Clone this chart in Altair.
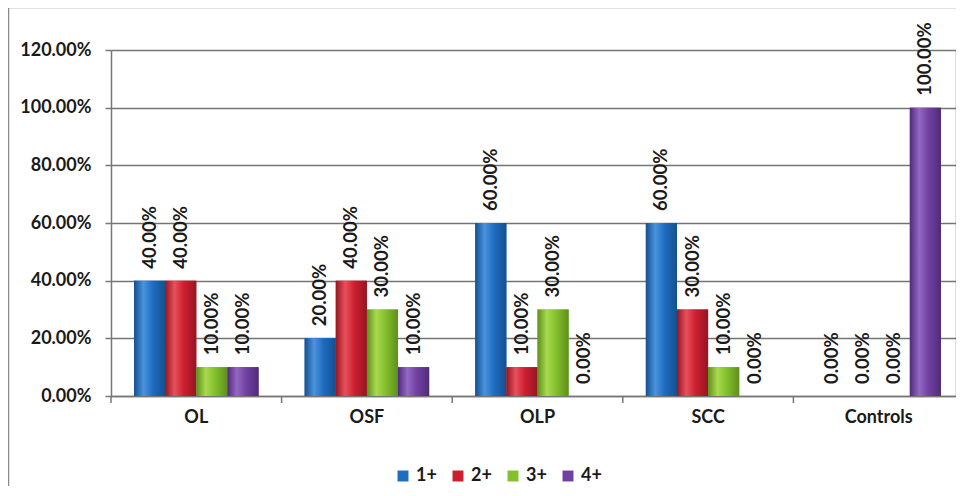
import altair as alt
import pandas as pd

categories = ["OL", "OSF", "OLP", "SCC", "Controls"]
series = ["1+", "2+", "3+", "4+"]
values_1 = [0.40, 0.20, 0.60, 0.60, 0.00]
values_2 = [0.40, 0.40, 0.10, 0.30, 0.00]
values_3 = [0.10, 0.30, 0.30, 0.10, 0.00]
values_4 = [0.10, 0.10, 0.00, 0.00, 1.00]
colors = ["#1f6cc0", "#cc1f30", "#84bf2c", "#7141a2"]
dark = ["#15508f", "#961522", "#5e8f1c", "#4f2b78"]
light = ["#4a93dd", "#e8505c", "#a8d94e", "#9467c4"]
y_ticks = [0, 0.2, 0.4, 0.6, 0.8, 1.0, 1.2]

rows = []
for s, vals in zip(series, [values_1, values_2, values_3, values_4]):
    for c, v in zip(categories, vals):
        rows.append({"cat": c, "series": s, "value": v})
df = pd.DataFrame(rows)
cat_df = pd.DataFrame({"cat": categories})

W, H = 844, 346
XR = 853
FONT = "Lato"

xscale = alt.Scale(domain=categories, paddingInner=0, paddingOuter=0, range=[0, XR])
xenc = alt.X("cat:N", sort=categories, scale=xscale,
             axis=alt.Axis(title=None, labelAngle=0, labelFont=FONT, labelFontSize=18,
                           labelFontWeight="bold", labelColor="#1a1a1a", labelPadding=12,
                           ticks=False, domainColor="#777", domainWidth=1.5, grid=False))
yenc = alt.Y("value:Q", scale=alt.Scale(domain=[0, 1.2], nice=False),
             axis=alt.Axis(title=None, format=".2%", values=y_ticks, labelFont=FONT,
                           labelFontSize=18, labelFontWeight="bold", labelColor="#1a1a1a",
                           labelPadding=14, tickSize=6, tickColor="#777", tickWidth=1.5,
                           domainColor="#777", domainWidth=1.5, grid=True,
                           gridColor="#747474", gridWidth=1.5))
xoff = alt.XOffset("series:N", sort=series,
                   scale=alt.Scale(domain=series, paddingInner=0, paddingOuter=0.74))

base = alt.Chart(df)

bars = base.mark_bar().encode(
    x=xenc,
    xOffset=xoff,
    y=yenc,
    color=alt.Color("series:N", sort=series,
                    scale=alt.Scale(domain=series, range=colors),
                    legend=alt.Legend(title=None, orient="none", direction="horizontal",
                                      legendX=283, legendY=417, symbolType="square",
                                      symbolSize=120, symbolStrokeWidth=0,
                                      labelFont=FONT, labelFontSize=18,
                                      labelFontWeight="bold", labelColor="#1a1a1a",
                                      columnPadding=12, labelOffset=4)),
)

shades = []
for s, c, d, l in zip(series, colors, dark, light):
    grad = alt.Gradient(gradient="linear", x1=0, x2=1, y1=0, y2=0, stops=[
        alt.GradientStop(color=d, offset=0),
        alt.GradientStop(color=l, offset=0.3),
        alt.GradientStop(color=c, offset=0.6),
        alt.GradientStop(color=d, offset=1),
    ])
    shades.append(
        base.transform_filter(alt.datum.series == s).mark_bar(color=grad).encode(
            x=alt.X("cat:N", sort=categories),
            xOffset=xoff,
            y="value:Q",
        )
    )

labels = base.mark_text(angle=270, align="left", baseline="middle", dx=12,
                        font=FONT, fontSize=18.5, fontWeight="bold", color="#1a1a1a").encode(
    x=alt.X("cat:N", sort=categories),
    xOffset=xoff,
    y="value:Q",
    text=alt.Text("value:Q", format=".2%"),
)

ticks_start = alt.Chart(cat_df).mark_rule(color="#777", strokeWidth=1.5).encode(
    x=alt.X("cat:N", sort=categories, bandPosition=0),
    y=alt.value(H), y2=alt.value(H + 7),
)

frame = alt.Chart(pd.DataFrame({"k": [0]})).mark_rect(
    fillOpacity=0, stroke="#8a8a8a", strokeWidth=1.5).encode(
    x=alt.value(-102.5), x2=alt.value(W + 20),
    y=alt.value(-42.5), y2=alt.value(H + 200),
)

chart = alt.layer(frame, bars, *shades, labels, ticks_start).properties(
    width=W, height=H,
    autosize=alt.AutoSizeParams(type="none"),
    padding={"left": 103, "top": 42, "right": 1, "bottom": 90},
).configure_view(stroke=None).configure(background="white")

chart.save("out.html", embed_options={"renderer": "svg", "actions": False})
